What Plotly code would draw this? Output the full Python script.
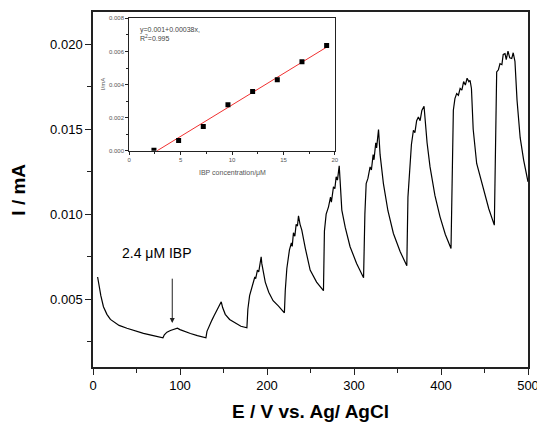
import plotly.graph_objects as go

# amperometric response (x label says E / V)
t_vals = [5.3, 7, 9, 12, 16, 20, 24, 30, 39, 48, 58, 68, 77, 80.4,
          82, 85, 89, 93, 97, 100, 105, 112, 120, 129.8,
          131, 134, 136.7, 139, 142, 145, 147.4, 149, 152, 157, 163, 170, 176.9,
          178, 180, 183, 186, 187, 189, 190.5, 192, 193.3, 194, 195, 198, 202, 207, 213, 220,
          221, 222.8, 225.8, 228, 229, 230.4, 232, 233.5, 235, 236.2, 238, 240, 244, 249.6, 257, 264.9,
          266, 268, 270.7, 273, 274, 276.4, 278, 279.5, 281, 283, 284, 286, 290, 295.5, 303, 311,
          312.5, 314, 316, 318.5, 320, 322, 323, 325, 326, 328.2, 330, 333.8, 339, 345.3, 353, 360.7,
          362, 364.5, 366, 368.3, 370, 372, 374, 376, 378, 380.5, 382, 384, 387.4, 393, 398.9, 405, 411.5,
          412.5, 414.2, 416, 418, 420, 422, 424, 426, 428, 430, 432, 433.4, 435, 437, 441, 448.7, 455, 461.3,
          462.5, 464, 466, 467.8, 470, 471.5, 473.6, 475, 477, 479, 481.3, 483, 485, 487.4, 491, 495, 500]
i_vals = [0.0063, 0.0057, 0.0052, 0.00455, 0.0041, 0.0038, 0.00365, 0.00345, 0.00328, 0.00312, 0.00298, 0.00286, 0.00275, 0.00272,
          0.0029, 0.00305, 0.00315, 0.0032, 0.00328, 0.0032, 0.0031, 0.00297, 0.00285, 0.00272,
          0.0031, 0.0035, 0.00376, 0.0040, 0.0043, 0.0046, 0.00484, 0.0045, 0.0041, 0.0038, 0.0036, 0.0034, 0.00331,
          0.0044, 0.0052, 0.0058, 0.0063, 0.0062, 0.0067, 0.0066, 0.0072, 0.00749, 0.0071, 0.0068, 0.0060, 0.0054, 0.0049, 0.0046, 0.00419,
          0.0055, 0.0068, 0.0079, 0.0083, 0.0081, 0.0089, 0.0087, 0.0094, 0.0093, 0.0099, 0.0094, 0.00906, 0.0080, 0.00671, 0.0060, 0.00549,
          0.0090, 0.0100, 0.01043, 0.0110, 0.0107, 0.0116, 0.0115, 0.0122, 0.0120, 0.01284, 0.0120, 0.01024, 0.0092, 0.00808, 0.0071, 0.00625,
          0.0100, 0.0118, 0.0121, 0.01278, 0.0126, 0.0135, 0.0132, 0.0142, 0.0139, 0.01498, 0.0135, 0.0118, 0.0102, 0.00886, 0.0078, 0.00696,
          0.0110, 0.01318, 0.0141, 0.01494, 0.0148, 0.0155, 0.01572, 0.0155, 0.0161, 0.01635, 0.0155, 0.0142, 0.01278, 0.0111, 0.00984, 0.0088, 0.00798,
          0.0120, 0.01612, 0.0168, 0.0171, 0.0170, 0.0174, 0.0173, 0.0178, 0.0176, 0.0180, 0.0178, 0.01788, 0.0174, 0.0150, 0.01298, 0.01141, 0.0103, 0.00935,
          0.0140, 0.01837, 0.0185, 0.01886, 0.0188, 0.0194, 0.01945, 0.0191, 0.0196, 0.0192, 0.01916, 0.0195, 0.0190, 0.0167, 0.0145, 0.01318, 0.0119]

# calibration inset
conc = [2.4, 4.8, 7.2, 9.6, 12.0, 14.4, 16.8, 19.2]
conc_i = [0.00003, 0.00062, 0.00147, 0.00279, 0.00359, 0.0043, 0.00538, 0.00636]
fit_x = [2.7, 19.3]
fit_y = [0.0, 0.0063]

main_ticks = [0.005, 0.010, 0.015, 0.020]
inset_yticks = [0.0, 0.002, 0.004, 0.006, 0.008]
inset_xticks = [0, 5, 10, 15, 20]

FONT = "Liberation Sans, Arial, sans-serif"
AX = "#222"

fig = go.Figure()
fig.add_trace(go.Scatter(x=t_vals, y=i_vals, mode="lines",
                         line=dict(color="black", width=1.2),
                         xaxis="x", yaxis="y", showlegend=False))
fig.add_trace(go.Scatter(x=fit_x, y=fit_y, mode="lines",
                         line=dict(color="#f03030", width=1),
                         xaxis="x2", yaxis="y2", showlegend=False))
fig.add_trace(go.Scatter(x=conc, y=conc_i, mode="markers",
                         marker=dict(color="black", size=5, symbol="square"),
                         xaxis="x2", yaxis="y2", showlegend=False))

fig.update_layout(
	width=537, height=422, autosize=False,
	margin=dict(l=93, r=9, t=12, b=55),
	paper_bgcolor="white", plot_bgcolor="white",
	font=dict(family=FONT, color="black"),
	xaxis=dict(
		range=[0, 500], tick0=0, dtick=100, automargin=False, ticklabeloverflow="allow",
		showgrid=False, zeroline=False,
		showline=True, linecolor=AX, linewidth=1.5, mirror=True,
		ticks="outside", ticklen=6, tickcolor=AX, tickwidth=1.2,
		tickfont=dict(size=13, family=FONT, color="black"),
		minor=dict(dtick=50, ticks="outside", ticklen=4, tickcolor=AX, tickwidth=1.2),
	),
	yaxis=dict(
		range=[0.001, 0.0219], tickvals=main_ticks, tickformat=".3f", automargin=False,
		showgrid=False, zeroline=False,
		showline=True, linecolor=AX, linewidth=1.5, mirror=True,
		ticks="outside", ticklen=6, tickcolor=AX, tickwidth=1.2,
		tickfont=dict(size=13, family=FONT, color="black"),
		minor=dict(tick0=0, dtick=0.0025, ticks="outside", ticklen=4, tickcolor=AX, tickwidth=1.2),
	),
	xaxis2=dict(
		domain=[0.0834, 0.556], anchor="y2", range=[0, 20], tickvals=inset_xticks, automargin=False,
		showgrid=False, zeroline=False,
		showline=True, linecolor=AX, linewidth=1.2, mirror=True,
		ticks="outside", ticklen=3, tickcolor=AX, tickwidth=0.8,
		tickfont=dict(size=6, family=FONT, color="#555"),
		minor=dict(dtick=2.5, ticks="outside", ticklen=2, tickcolor=AX, tickwidth=0.8),
	),
	yaxis2=dict(
		domain=[0.609, 0.982], anchor="x2", range=[0, 0.008], tickvals=inset_yticks, tickformat=".3f", automargin=False,
		showgrid=False, zeroline=False,
		showline=True, linecolor=AX, linewidth=1.2, mirror=True,
		ticks="outside", ticklen=3, tickcolor=AX, tickwidth=0.8,
		tickfont=dict(size=6, family=FONT, color="#555"),
		minor=dict(dtick=0.001, ticks="outside", ticklen=2, tickcolor=AX, tickwidth=0.8),
	),
)

annotations = [
	dict(text="<b>E / V vs. Ag/ AgCl</b>", xref="paper", yref="paper", x=0.5, y=-0.126,
		 xanchor="center", yanchor="middle", showarrow=False, font=dict(size=19, family=FONT)),
	dict(text="<b>I / mA</b>", xref="paper", yref="paper", x=-0.172, y=0.5,
		 xanchor="center", yanchor="middle", textangle=-90, showarrow=False, font=dict(size=19, family=FONT)),
	dict(text="2.4 \u03bcM IBP", xref="x", yref="y", x=73.5, y=0.0077,
		 xanchor="center", yanchor="middle", showarrow=False, font=dict(size=14, family=FONT)),
	dict(text=" ", xref="x", yref="y", axref="x", ayref="y", x=91.1, y=0.00359, ax=91.1, ay=0.0067,
		 showarrow=True, arrowhead=2, arrowsize=1, arrowwidth=1, arrowcolor="#222"),
	dict(text="y=0.001+0.00038x,<br>R<sup>2</sup>=0.995", xref="x2 domain", yref="y2 domain", x=0.04, y=0.96,
		 xanchor="left", yanchor="top", align="left", showarrow=False, font=dict(size=7, family=FONT, color="#444")),
	dict(text="IBP concentration/\u03bcM", xref="x2 domain", yref="y2 domain", x=0.5, y=-0.12,
		 xanchor="center", yanchor="top", showarrow=False, font=dict(size=7, family=FONT, color="#555")),
	dict(text="I/mA", xref="x2 domain", yref="y2 domain", x=-0.13, y=0.5,
		 xanchor="center", yanchor="middle", textangle=-90, showarrow=False, font=dict(size=6, family=FONT, color="#555")),
]
fig.update_layout(annotations=annotations)

fig.write_html("out.html", config={"displayModeBar": False, "responsive": False},
			   post_script="document.body.style.margin='0';document.body.style.overflow='hidden';")
